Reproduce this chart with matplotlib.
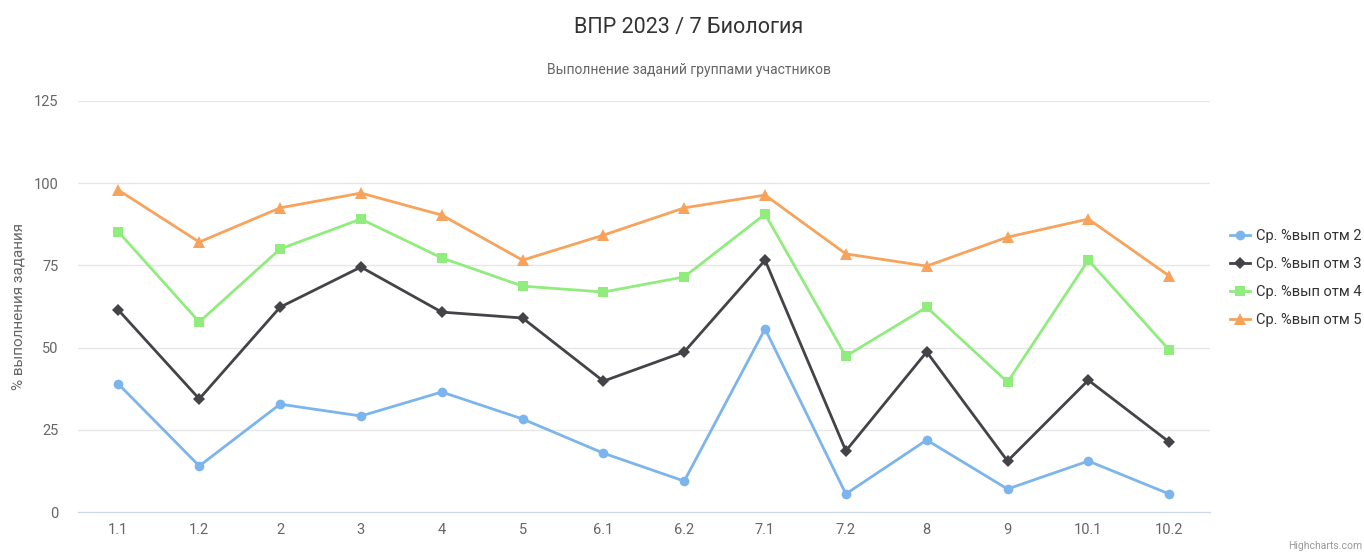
import matplotlib
matplotlib.use("Agg")
import matplotlib.pyplot as plt
from matplotlib import font_manager

# Данные
categories = ["1.1", "1.2", "2", "3", "4", "5", "6.1", "6.2", "7.1", "7.2", "8", "9", "10.1", "10.2"]
otm2 = [38.9, 14.0, 32.8, 29.2, 36.5, 28.3, 17.9, 9.4, 55.7, 5.5, 21.9, 7.0, 15.5, 5.5]
otm3 = [61.4, 34.4, 62.3, 74.5, 60.8, 59.0, 39.8, 48.7, 76.6, 18.6, 48.7, 15.5, 40.1, 21.3]
otm4 = [85.2, 57.8, 80.0, 89.1, 77.3, 68.7, 66.9, 71.5, 90.6, 47.4, 62.3, 39.5, 76.6, 49.3]
otm5 = [97.9, 82.1, 92.5, 97.0, 90.3, 76.6, 84.2, 92.5, 96.4, 78.5, 74.8, 83.6, 89.1, 71.8]
names = ["Ср. %вып отм 2", "Ср. %вып отм 3", "Ср. %вып отм 4", "Ср. %вып отм 5"]
y_ticks = [0, 25, 50, 75, 100, 125]

installed = {f.name for f in font_manager.fontManager.ttflist}
fam = [f for f in ["Liberation Sans Narrow", "Roboto", "DejaVu Sans"] if f in installed]
plt.rcParams["font.family"] = fam

fig = plt.figure(figsize=(13.64, 5.58), dpi=100)
ax = fig.add_axes([0.0572, 0.0824, 0.8296, 0.7366])

series = [otm2, otm3, otm4, otm5]
colors = ["#7cb5ec", "#434348", "#90ed7d", "#f7a35c"]
markers = ["o", "D", "s", "^"]
msizes = [7, 6, 7, 8]
x = list(range(len(categories)))
for vals, c, m, ms, n in zip(series, colors, markers, msizes, names):
    ax.plot(x, vals, color=c, marker=m, markersize=ms, linewidth=2, label=n,
            markeredgewidth=0, zorder=3)

ax.set_xlim(-0.5, len(categories) - 0.5)
ax.set_ylim(0, 125)
ax.set_xticks(x)
ax.set_xticklabels(categories)
ax.set_yticks(y_ticks)
ax.grid(axis="y", color="#e6e6e6", linewidth=1)
ax.set_axisbelow(True)
for s in ["top", "right", "left"]:
    ax.spines[s].set_visible(False)
ax.spines["bottom"].set_color("#ccd6eb")
ax.tick_params(axis="y", length=0, colors="#666666", labelsize=10.5, pad=14)
ax.tick_params(axis="x", length=0, colors="#666666", labelsize=10.5, pad=8)
ax.set_ylabel("% выполнения задания", color="#666666", fontsize=11, labelpad=6)

fig.text(0.505, 0.95, "ВПР 2023 / 7 Биология", ha="center", va="center",
         fontsize=15.5, color="#333333")
fig.text(0.505, 0.874, "Выполнение заданий группами участников", ha="center", va="center",
         fontsize=10, color="#666666")

leg = ax.legend(loc="center left", bbox_to_anchor=(1.018, 0.569), frameon=False,
                fontsize=10.5, handlelength=1.4, labelspacing=0.95, handletextpad=0.4,
                borderpad=0.0, borderaxespad=0.0)
for t in leg.get_texts():
    t.set_color("#333333")

fig.text(0.999, 0.012, "Highcharts.com", ha="right", va="bottom", fontsize=7.5, color="#999999")

fig.savefig("out.png", dpi=100, facecolor="white")
